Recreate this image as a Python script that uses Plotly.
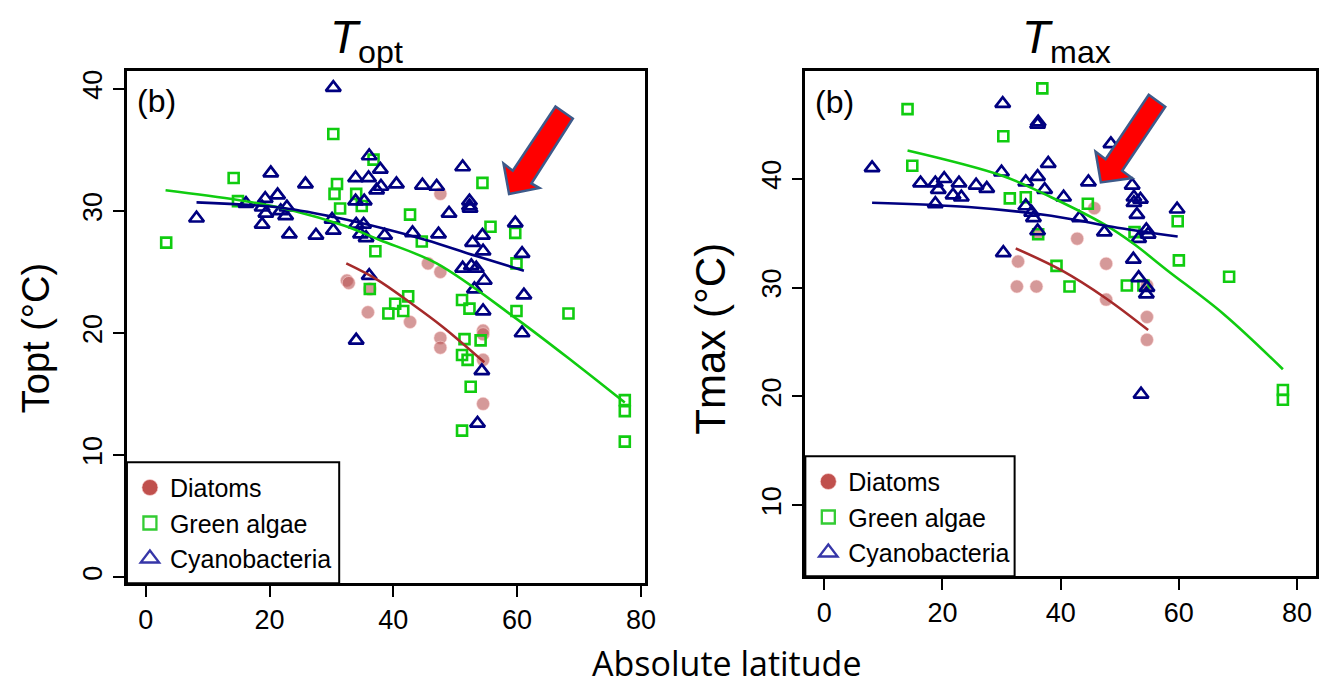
import plotly.graph_objects as go

W, H = 1342, 688

# ---------------- Topt panel (absolute latitude vs optimum temperature) ----------------
topt_cyano_lat = [30.3, 20.2, 25.8, 36.1, 37.9, 33.9, 36.0, 37.3, 38.0, 33.9, 35.3, 21.3, 19.3, 16.2,
                  8.2, 18.8, 19.4, 18.8, 21.8, 22.8, 22.6, 23.2, 27.5, 30.1, 30.3, 34.0, 35.2, 34.7,
                  35.6, 38.6, 36.1, 40.5, 44.7, 47.0, 51.2, 52.3, 52.3, 52.4, 49.0, 59.7, 43.1, 47.3,
                  52.8, 54.4, 54.5, 60.8, 51.2, 52.6, 53.4, 54.7, 53.1, 54.5, 61.1, 60.8, 54.3, 53.6,
                  34.0]
topt_cyano_val = [40.1, 33.1, 32.2, 34.5, 33.4, 32.7, 32.7, 31.7, 32.0, 30.8, 30.8, 31.3, 31.0, 30.6,
                  29.4, 30.3, 29.8, 28.9, 30.0, 30.3, 29.6, 28.1, 28.0, 29.3, 28.4, 28.9, 28.9, 28.1,
                  27.8, 28.0, 24.7, 32.2, 32.1, 32.0, 33.6, 30.8, 30.4, 30.2, 29.8, 29.0, 28.2, 28.1,
                  27.4, 28.0, 26.7, 26.5, 25.3, 25.5, 25.3, 24.3, 23.6, 21.8, 23.1, 20.0, 16.9, 12.6,
                  19.4]

topt_green_lat = [30.3, 14.2, 36.8, 30.9, 30.5, 34.0, 34.9, 31.4, 14.9, 3.3, 37.1, 54.4, 42.7, 55.7,
                  59.7, 44.6, 59.9, 42.4, 40.3, 41.6, 39.2, 51.1, 52.3, 59.9, 68.3, 51.5, 54.1, 51.1,
                  52.0, 52.5, 51.1, 77.4, 77.4, 77.4, 36.2]
topt_green_val = [36.3, 32.7, 34.2, 32.2, 31.4, 31.4, 30.4, 30.2, 30.8, 27.4, 26.7, 32.3, 29.7, 28.7,
                  28.2, 27.5, 25.7, 23.0, 22.4, 21.8, 21.6, 22.7, 22.0, 21.8, 21.6, 19.5, 19.4, 18.2,
                  17.8, 15.6, 12.0, 14.5, 13.6, 11.1, 23.6]

topt_diatom_lat = [47.6, 45.6, 47.6, 42.7, 54.5, 54.5, 47.6, 47.6, 54.5, 54.5, 32.5, 32.8, 36.2, 35.9]
topt_diatom_val = [31.4, 25.7, 25.0, 20.9, 20.2, 19.9, 19.6, 18.8, 17.8, 14.2, 24.3, 24.1, 23.6, 21.7]

# fitted trend curves, sampled along each curve
topt_green_fit_lat = [3.2, 14.9, 24.0, 32.0, 37.9, 47.0, 59.8, 69.4, 77.4]
topt_green_fit_val = [31.7, 30.9, 30.0, 28.8, 27.6, 25.7, 21.2, 17.5, 14.3]
topt_cyano_fit_lat = [8.2, 21.3, 30.4, 38.9, 45.4, 53.4, 61.1]
topt_cyano_fit_val = [30.7, 30.3, 29.5, 28.5, 27.6, 26.3, 25.1]
topt_diatom_fit_lat = [32.4, 37.3, 42.7, 48.0, 54.7]
topt_diatom_fit_val = [25.7, 24.4, 22.5, 20.5, 17.6]

# ---------------- Tmax panel (absolute latitude vs maximum temperature) ----------------
tmax_cyano_lat = [30.2, 36.1, 36.2, 37.9, 8.1, 30.0, 36.1, 34.1, 16.3, 18.8, 20.3, 22.8, 25.7, 27.5,
                  19.3, 21.8, 23.2, 18.8, 37.3, 34.1, 35.1, 35.4, 36.1, 30.3, 48.5, 44.7, 52.1, 40.5,
                  52.4, 53.5, 52.4, 59.7, 52.9, 43.2, 47.4, 54.5, 54.8, 53.2, 52.3, 53.2, 54.6, 54.5,
                  53.6]
tmax_cyano_val = [46.9, 45.0, 45.2, 41.4, 41.0, 40.6, 40.2, 39.7, 39.6, 39.6, 40.0, 39.6, 39.4, 39.1,
                  39.0, 38.5, 38.3, 37.7, 39.0, 37.5, 36.9, 36.4, 35.2, 33.2, 43.2, 39.7, 39.4, 38.3,
                  38.3, 38.1, 37.8, 37.2, 36.7, 36.4, 35.1, 35.3, 34.9, 34.5, 32.6, 30.9, 30.0, 29.4,
                  20.2]

tmax_green_lat = [36.9, 14.1, 30.3, 14.9, 31.4, 34.1, 36.2, 39.3, 44.6, 59.8, 52.5, 60.0, 68.5, 41.5,
                  51.2, 54.0, 77.6, 77.6]
tmax_green_val = [48.3, 46.4, 43.9, 41.2, 38.2, 38.3, 34.9, 32.0, 37.7, 36.1, 35.1, 32.5, 31.0, 30.1,
                  30.2, 30.2, 20.6, 19.7]

tmax_diatom_lat = [32.8, 36.1, 45.7, 42.8, 47.7, 32.6, 35.9, 47.7, 54.6, 54.6, 54.6]
tmax_diatom_val = [32.4, 35.0, 37.3, 34.5, 32.2, 30.1, 30.1, 28.9, 30.2, 27.3, 25.2]

tmax_green_fit_lat = [14.1, 30.0, 38.4, 47.4, 52.4, 58.0, 67.5, 77.6]
tmax_green_fit_val = [42.6, 40.3, 38.3, 35.8, 34.0, 31.6, 27.6, 22.5]
tmax_cyano_fit_lat = [8.1, 24.4, 38.4, 49.6, 59.8]
tmax_cyano_fit_val = [37.8, 37.4, 36.6, 35.5, 34.7]
tmax_diatom_fit_lat = [32.4, 40.1, 47.7, 54.8]
tmax_diatom_fit_val = [33.6, 31.6, 29.0, 26.1]

# group labels for the legends
groups = ["Diatoms", "Green algae", "Cyanobacteria"]

# ---------------- styles ----------------
FONT = "Liberation Sans, Arial, Helvetica, sans-serif"
DIATOM_FILL = "rgba(185,85,85,0.6)"
DIATOM_EDGE = "rgba(255,215,215,0.55)"
GREEN = "#10CC10"
NAVY = "#000080"
RED_LINE = "#A52A2A"

fig = go.Figure()


def add_panel(xa, ya, cy_x, cy_y, gr_x, gr_y, di_x, di_y, fits):
    fig.add_trace(go.Scatter(x=di_x, y=di_y, mode="markers", xaxis=xa, yaxis=ya, showlegend=False,
                             marker=dict(symbol="circle", size=13, color=DIATOM_FILL,
                                         line=dict(color=DIATOM_EDGE, width=1))))
    fig.add_trace(go.Scatter(x=gr_x, y=gr_y, mode="markers", xaxis=xa, yaxis=ya, showlegend=False,
                             marker=dict(symbol="square-open", size=10, color=GREEN,
                                         line=dict(color=GREEN, width=2.6))))
    fig.add_trace(go.Scatter(x=cy_x, y=cy_y, mode="markers", xaxis=xa, yaxis=ya, showlegend=False,
                             marker=dict(symbol="triangle-up-open", size=13, color=NAVY,
                                         line=dict(color=NAVY, width=2.7))))
    for fx, fy, col in fits:
        fig.add_trace(go.Scatter(x=fx, y=fy, mode="lines", xaxis=xa, yaxis=ya, showlegend=False,
                                 line=dict(color=col, width=2.6, shape="spline", smoothing=1.0),
                                 hoverinfo="skip"))


add_panel("x", "y", topt_cyano_lat, topt_cyano_val, topt_green_lat, topt_green_val,
          topt_diatom_lat, topt_diatom_val,
          [(topt_green_fit_lat, topt_green_fit_val, GREEN),
           (topt_cyano_fit_lat, topt_cyano_fit_val, NAVY),
           (topt_diatom_fit_lat, topt_diatom_fit_val, RED_LINE)])
add_panel("x2", "y2", tmax_cyano_lat, tmax_cyano_val, tmax_green_lat, tmax_green_val,
          tmax_diatom_lat, tmax_diatom_val,
          [(tmax_green_fit_lat, tmax_green_fit_val, GREEN),
           (tmax_cyano_fit_lat, tmax_cyano_fit_val, NAVY),
           (tmax_diatom_fit_lat, tmax_diatom_fit_val, RED_LINE)])

# legend-only entries (one set per panel)
legend_markers = [
    dict(symbol="circle", size=16, color="#C0504D", line=dict(color="rgba(255,220,220,0.6)", width=1)),
    dict(symbol="square-open", size=13, color="#33CC33", line=dict(color="#33CC33", width=2.3)),
    dict(symbol="triangle-up-open", size=16, color="#3636A8", line=dict(color="#3636A8", width=2.3)),
]
for leg in ["legend", "legend2"]:
    for name, mk in zip(groups, legend_markers):
        fig.add_trace(go.Scatter(x=[None], y=[None], mode="markers", name=name, marker=mk,
                                 legend=leg, xaxis="x" if leg == "legend" else "x2",
                                 yaxis="y" if leg == "legend" else "y2"))

axis_common = dict(showline=True, mirror=True, linecolor="black", linewidth=2.5,
                   showgrid=False, zeroline=False, ticks="outside", ticklen=11, tickwidth=2,
                   tickcolor="black", tickfont=dict(family=FONT, size=27, color="black"))

fig.update_layout(
    width=W, height=H,
    margin=dict(l=0, r=0, t=0, b=0),
    paper_bgcolor="white", plot_bgcolor="white",
    xaxis=dict(domain=[128 / W, 650 / W], range=[-3.04, 80.61], tickvals=[0, 20, 40, 60, 80],
               anchor="y", **axis_common),
    yaxis=dict(domain=[1 - 583 / H, 1 - 70 / H], range=[-0.49, 41.47], tickvals=[0, 10, 20, 30, 40],
               tickangle=-90, anchor="x", **axis_common),
    xaxis2=dict(domain=[812 / W, 1327 / W], range=[-3.19, 83.22], tickvals=[0, 20, 40, 60, 80],
                anchor="y2", **axis_common),
    yaxis2=dict(domain=[1 - 576 / H, 1 - 70 / H], range=[3.49, 49.91], tickvals=[10, 20, 30, 40],
                tickangle=-90, anchor="x2", **axis_common),
    legend=dict(x=131 / W, y=1 - 523 / H, xanchor="left", yanchor="middle",
                bgcolor="rgba(0,0,0,0)", borderwidth=0, tracegroupgap=0,
                font=dict(family=FONT, size=25, color="black"), itemsizing="trace"),
    legend2=dict(x=815 / W, y=1 - 517 / H, xanchor="left", yanchor="middle",
                 bgcolor="rgba(0,0,0,0)", borderwidth=0, tracegroupgap=0,
                 font=dict(family=FONT, size=25, color="black"), itemsizing="trace"),
    showlegend=True,
)

# legend frames
for x0, x1, y0, y1 in [(128, 342, 583, 462), (812, 1023, 576, 456)]:
    fig.add_shape(type="rect", xref="paper", yref="paper", x0=x0 / W, x1=x1 / W,
                  y0=1 - y0 / H, y1=1 - y1 / H, fillcolor="white",
                  line=dict(color="black", width=2), layer="above")

# block arrows pointing into each panel
arrow_topt_lat = [66.2, 69.0, 62.3, 63.6, 58.7, 57.8, 59.3]
arrow_topt_val = [38.55, 37.57, 32.25, 31.88, 31.39, 33.89, 33.29]
arrow_tmax_lat = [54.9, 57.7, 50.4, 52.1, 46.8, 45.9, 47.6]
arrow_tmax_val = [47.71, 46.61, 40.73, 40.06, 39.66, 42.50, 41.80]


def arrow_path(xs, ys):
    pts = [f"{x},{y}" for x, y in zip(xs, ys)]
    return "M " + " L ".join(pts) + " Z"


fig.add_shape(type="path", xref="x", yref="y", path=arrow_path(arrow_topt_lat, arrow_topt_val),
              fillcolor="#FF0000", line=dict(color="#3D5A8A", width=2.5), layer="above")
fig.add_shape(type="path", xref="x2", yref="y2", path=arrow_path(arrow_tmax_lat, arrow_tmax_val),
              fillcolor="#FF0000", line=dict(color="#3D5A8A", width=2.5), layer="above")

annotations = [
    dict(text="<i>T</i><sub>opt</sub>", x=370 / W, y=1 - 40 / H, font=dict(family=FONT, size=46)),
    dict(text="<i>T</i><sub>max</sub>", x=1075 / W, y=1 - 40 / H, font=dict(family=FONT, size=46)),
    dict(text="(b)", x=136 / W, y=1 - 100 / H, xanchor="left", font=dict(family=FONT, size=32)),
    dict(text="(b)", x=820 / W, y=1 - 101 / H, xanchor="left", font=dict(family=FONT, size=32)),
    dict(text="Topt (°C)", x=36 / W, y=1 - 338 / H, textangle=-90, font=dict(family=FONT, size=38)),
    dict(text="Tmax (°C)", x=716 / W, y=1 - 338 / H, textangle=-90, font=dict(family=FONT, size=42)),
    dict(text="Absolute latitude", x=733 / W, y=1 - 663 / H,
         font=dict(family="Open Sans, Lato, sans-serif", size=34)),
]
for a in annotations:
    a.setdefault("xanchor", "center")
    a.setdefault("yanchor", "middle")
    a["font"]["color"] = "black"
    fig.add_annotation(xref="paper", yref="paper", showarrow=False, **a)

fig.write_html("out.html")
